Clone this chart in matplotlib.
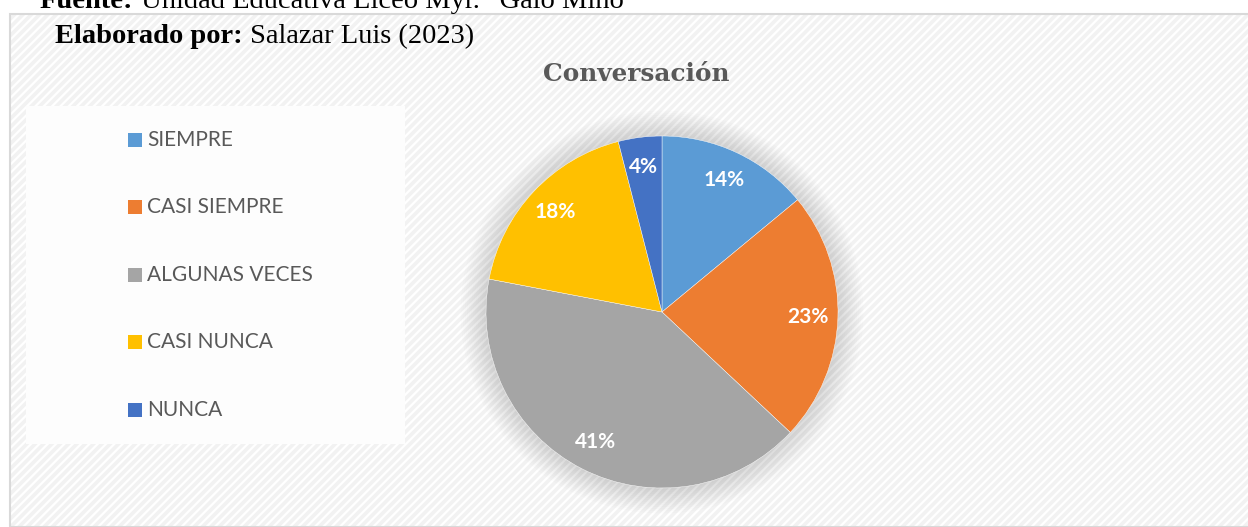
import numpy as np
import matplotlib
matplotlib.use("Agg")
import matplotlib.pyplot as plt
from matplotlib.patches import Rectangle, Circle

# --- datos ---
categorias = ["SIEMPRE", "CASI SIEMPRE", "ALGUNAS VECES", "CASI NUNCA", "NUNCA"]
porcentajes = [14, 23, 41, 18, 4]
colores = ["#5b9bd5", "#ed7d31", "#a5a5a5", "#ffc000", "#4472c4"]
titulo = "Conversación"
fuente_neg = "Fuente:"
fuente_txt = " Unidad Educativa Liceo Myr. \u201cGalo Miño\u201d"
elab_neg = "Elaborado por:"
elab_txt = " Salazar Luis (2023)"

W, H = 1248, 527
plt.rcParams["hatch.linewidth"] = 1.6
fig = plt.figure(figsize=(W / 100, H / 100), dpi=100, facecolor="white")


def px(x, y):
    # pixeles (desde arriba) -> fraccion de figura
    return x / W, 1 - y / H


# area del grafico con fondo rayado
x0, y0 = px(10, 527)
fondo = Rectangle((x0, y0), 1 - x0, 1 - 14 / H - y0, transform=fig.transFigure,
                  facecolor="#f2f2f2", edgecolor="white", hatch="////", lw=0, zorder=0)
fig.patches.append(fondo)
borde = Rectangle((x0, y0), 1 - x0 + 0.01, 1 - 14 / H - y0, transform=fig.transFigure,
                  facecolor="none", edgecolor="#d9d9d9", lw=1.5, zorder=1)
fig.patches.append(borde)

# caja de la leyenda
lx, ly = px(26, 444)
caja = Rectangle((lx, ly), (405 - 26) / W, (444 - 106) / H, transform=fig.transFigure,
                 facecolor="#fdfdfd", edgecolor="none", zorder=1)
fig.patches.append(caja)

renderer = fig.canvas.get_renderer()


def texto_mixto(x, y, neg, txt, size):
    t1 = fig.text(*px(x, y), neg, fontsize=size, fontweight="bold",
                  family="Liberation Serif", va="baseline", color="black", zorder=3)
    bb = t1.get_window_extent(renderer=renderer)
    fig.text(bb.x1 / W, 1 - y / H, txt, fontsize=size, family="Liberation Serif",
             va="baseline", color="black", zorder=3)


texto_mixto(40, 8, fuente_neg, fuente_txt, 20.5)
texto_mixto(55, 43, elab_neg, elab_txt, 20.5)

fig.text(*px(636, 81), titulo, fontsize=17.8, fontweight="bold", family="DejaVu Serif",
         color="#595959", ha="center", va="baseline", zorder=3)

# leyenda manual
filas_y = [140, 207, 275, 342, 410]
for cat, col, yy in zip(categorias, colores, filas_y):
    rx, ry = px(128, yy + 7)
    fig.patches.append(Rectangle((rx, ry), 14 / W, 14 / H, transform=fig.transFigure,
                                 facecolor=col, edgecolor="none", zorder=3))
    fig.text(*px(147, yy), cat, fontsize=15, family="Lato", color="#595959",
             va="center", ha="left", zorder=3)

# pastel
cx, cy, r = 662, 312, 176
lado = 440
ax = fig.add_axes([(cx - lado / 2) / W, (H - cy - lado / 2) / H, lado / W, lado / H])
ax.set_zorder(2)
ax.set_aspect("equal")
ax.axis("off")

# sombra suave
for k in range(12):
    ax.add_patch(Circle((0, 0.0), 1.0 + 0.012 * (12 - k), facecolor="#808080",
                        edgecolor="none", alpha=0.025, zorder=0))

wedges, textos, autotextos = ax.pie(
    porcentajes, colors=colores, startangle=90, counterclock=False,
    autopct="%1.0f%%", pctdistance=0.83, radius=1.0,
    wedgeprops=dict(edgecolor="white", linewidth=0.3),
    textprops=dict(color="white", fontsize=15, fontweight="bold", family="Lato"))
ax.set_xlim(-lado / 2 / r, lado / 2 / r)
ax.set_ylim(-lado / 2 / r, lado / 2 / r)

fig.savefig("out.png", dpi=100, facecolor="white")
